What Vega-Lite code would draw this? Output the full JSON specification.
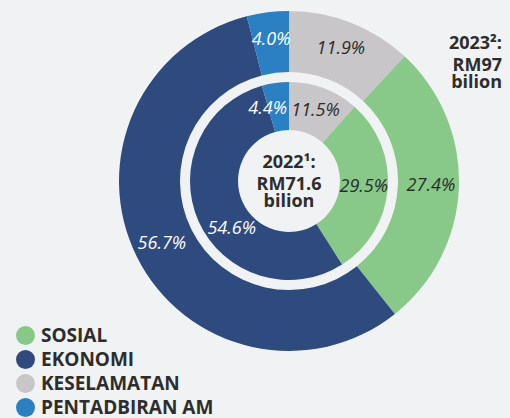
{
  "$schema": "https://vega.github.io/schema/vega-lite/v6.json",
  "width": 442,
  "height": 362,
  "autosize": {"type": "none"},
  "padding": {"left": 68, "top": 0, "right": 0, "bottom": 56},
  "background": "#f1f2f4",
  "config": {"view": {"stroke": null}, "font": "Open Sans"},
  "title": {
    "text": "2023²:",
    "subtitle": ["RM97", "bilion"],
    "orient": "top",
    "anchor": "end",
    "frame": "group",
    "offset": -92,
    "dx": -8,
    "font": "Open Sans",
    "fontSize": 18,
    "fontWeight": "bold",
    "color": "#2d2d2d",
    "subtitleFont": "Open Sans",
    "subtitleFontSize": 18,
    "subtitleFontWeight": "bold",
    "subtitleColor": "#2d2d2d",
    "subtitleLineHeight": 17,
    "subtitlePadding": 4
  },
  "data": {
    "values": [
      {"year": 2023, "cat": "KESELAMATAN", "pct": 11.9, "ord": 1, "label": "11.9%"},
      {"year": 2023, "cat": "SOSIAL", "pct": 27.4, "ord": 2, "label": "27.4%"},
      {"year": 2023, "cat": "EKONOMI", "pct": 56.7, "ord": 3, "label": "56.7%"},
      {"year": 2023, "cat": "PENTADBIRAN AM", "pct": 4.0, "ord": 4, "label": "4.0%"},
      {"year": 2022, "cat": "KESELAMATAN", "pct": 11.5, "ord": 1, "label": "11.5%"},
      {"year": 2022, "cat": "SOSIAL", "pct": 29.5, "ord": 2, "label": "29.5%"},
      {"year": 2022, "cat": "EKONOMI", "pct": 54.6, "ord": 3, "label": "54.6%"},
      {"year": 2022, "cat": "PENTADBIRAN AM", "pct": 4.4, "ord": 4, "label": "4.4%"}
    ]
  },
  "layer": [
    {
      "transform": [{"filter": "datum.year == 2023"}],
      "mark": {"type": "arc", "radius": 170, "radius2": 109},
      "encoding": {
        "theta": {"field": "pct", "type": "quantitative", "stack": true, "scale": {"domain": [0, 100]}},
        "order": {"field": "ord", "type": "quantitative"},
        "color": {
          "field": "cat",
          "type": "nominal",
          "scale": {
            "domain": ["SOSIAL", "EKONOMI", "KESELAMATAN", "PENTADBIRAN AM"],
            "range": ["#88c98a", "#2e4a7e", "#c8c6c9", "#2a80c2"]
          },
          "legend": {
            "orient": "none",
            "legendX": -52,
            "legendY": 326,
            "title": null,
            "symbolType": "circle",
            "symbolSize": 361,
            "symbolStrokeWidth": 0,
            "symbolOpacity": 1,
            "labelFont": "Open Sans",
            "labelFontSize": 19,
            "labelFontWeight": "bold",
            "labelColor": "#2d2d2d",
            "labelOffset": 6,
            "labelLimit": 400,
            "rowPadding": 4,
            "padding": 0
          }
        }
      }
    },
    {
      "transform": [{"filter": "datum.year == 2023"}],
      "mark": {"type": "text", "radius": 142, "fontSize": 18, "fontStyle": "italic", "font": "Open Sans"},
      "encoding": {
        "theta": {"field": "pct", "type": "quantitative", "stack": true, "scale": {"domain": [0, 100]}},
        "order": {"field": "ord", "type": "quantitative"},
        "text": {"field": "label"},
        "color": {"condition": {"test": "datum.cat == 'EKONOMI' || datum.cat == 'PENTADBIRAN AM'", "value": "#ffffff"}, "value": "#2b2b2b"}
      }
    },
    {
      "transform": [{"filter": "datum.year == 2022"}],
      "mark": {"type": "arc", "radius": 99, "radius2": 51},
      "encoding": {
        "theta": {"field": "pct", "type": "quantitative", "stack": true, "scale": {"domain": [0, 100]}},
        "order": {"field": "ord", "type": "quantitative"},
        "color": {"field": "cat", "type": "nominal"}
      }
    },
    {
      "transform": [{"filter": "datum.year == 2022"}],
      "mark": {"type": "text", "radius": 75, "fontSize": 18, "fontStyle": "italic", "font": "Open Sans"},
      "encoding": {
        "theta": {"field": "pct", "type": "quantitative", "stack": true, "scale": {"domain": [0, 100]}},
        "order": {"field": "ord", "type": "quantitative"},
        "text": {"field": "label"},
        "opacity": {"condition": {"test": "datum.cat == 'EKONOMI' || datum.cat == 'PENTADBIRAN AM'", "value": 0}, "value": 1},
        "color": {"value": "#2b2b2b"}
      }
    },
    {
      "transform": [{"filter": "datum.year == 2022"}],
      "mark": {"type": "text", "radius": 75, "thetaOffset": -0.15, "fontSize": 18, "fontStyle": "italic", "font": "Open Sans", "color": "#ffffff"},
      "encoding": {
        "theta": {"field": "pct", "type": "quantitative", "stack": true, "scale": {"domain": [0, 100]}},
        "order": {"field": "ord", "type": "quantitative"},
        "text": {"field": "label"},
        "opacity": {"condition": {"test": "datum.cat == 'PENTADBIRAN AM'", "value": 1}, "value": 0}
      }
    },
    {
      "transform": [{"filter": "datum.year == 2022"}],
      "mark": {"type": "text", "radius": 75, "thetaOffset": -0.28, "fontSize": 18, "fontStyle": "italic", "font": "Open Sans", "color": "#ffffff"},
      "encoding": {
        "theta": {"field": "pct", "type": "quantitative", "stack": true, "scale": {"domain": [0, 100]}},
        "order": {"field": "ord", "type": "quantitative"},
        "text": {"field": "label"},
        "opacity": {"condition": {"test": "datum.cat == 'EKONOMI'", "value": 1}, "value": 0}
      }
    },
    {
      "data": {"values": [{"line": "2022¹:"}]},
      "mark": {"type": "text", "fontSize": 18, "fontWeight": "bold", "font": "Open Sans", "baseline": "alphabetic", "dy": -13, "color": "#2d2d2d"},
      "encoding": {"text": {"field": "line"}}
    },
    {
      "data": {"values": [{"line": "RM71.6\nbilion"}]},
      "mark": {"type": "text", "fontSize": 18, "fontWeight": "bold", "font": "Open Sans", "baseline": "alphabetic", "dy": 9, "lineBreak": "\n", "lineHeight": 17, "color": "#2d2d2d"},
      "encoding": {"text": {"field": "line"}}
    }
  ]
}
